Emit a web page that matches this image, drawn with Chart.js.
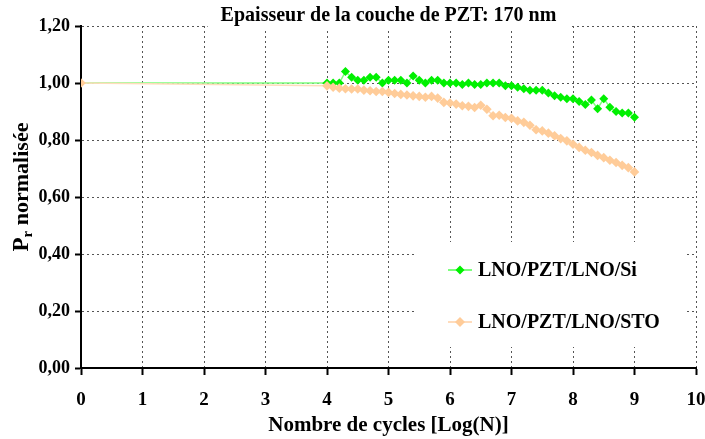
<!DOCTYPE html>
<html>
<head>
<meta charset="utf-8">
<script src="https://cdn.jsdelivr.net/npm/chart.js@4/dist/chart.umd.min.js"></script>
<style>
  html, body { margin: 0; padding: 0; background: #ffffff; }
  #fatigueChart { display: block; }
</style>
</head>
<body>
<canvas id="fatigueChart" width="705" height="439"></canvas>
<script>
// log10 of the number of switching cycles
const cyclesLog = [0,
    4.0, 4.1, 4.2, 4.3, 4.4, 4.5, 4.6, 4.7, 4.8, 4.9,
    5.0, 5.1, 5.2, 5.3, 5.4, 5.5, 5.6, 5.7, 5.8, 5.9,
    6.0, 6.1, 6.2, 6.3, 6.4, 6.5, 6.6, 6.7, 6.8, 6.9,
    7.0, 7.1, 7.2, 7.3, 7.4, 7.5, 7.6, 7.7, 7.8, 7.9,
    8.0, 8.1, 8.2, 8.3, 8.4, 8.5, 8.6, 8.7, 8.8, 8.9,
    9.0];

// normalised remanent polarisation, LNO/PZT/LNO on Si
const prSi = [1.00,
    1.00, 1.00, 1.00, 1.04, 1.02, 1.01, 1.01, 1.02, 1.02, 1.00,
    1.01, 1.01, 1.01, 1.00, 1.025, 1.01, 1.00, 1.01, 1.01, 1.00,
    1.00, 1.00, 0.995, 1.00, 0.995, 0.995, 1.00, 1.00, 1.00, 0.99,
    0.99, 0.985, 0.98, 0.975, 0.975, 0.975, 0.965, 0.955, 0.95, 0.945,
    0.945, 0.935, 0.925, 0.94, 0.91, 0.945, 0.915, 0.90, 0.895, 0.895,
    0.88];

// normalised remanent polarisation, LNO/PZT/LNO on STO
const prSto = [1.00,
    0.99, 0.985, 0.982, 0.98, 0.979, 0.979, 0.975, 0.973, 0.97, 0.97,
    0.967, 0.963, 0.96, 0.958, 0.955, 0.953, 0.95, 0.953, 0.947, 0.932,
    0.93, 0.926, 0.92, 0.918, 0.914, 0.922, 0.908, 0.885, 0.887, 0.879,
    0.876, 0.867, 0.862, 0.852, 0.836, 0.832, 0.824, 0.815, 0.805, 0.797,
    0.785, 0.774, 0.764, 0.756, 0.746, 0.738, 0.729, 0.721, 0.711, 0.703,
    0.688];

const seriesNames = ["LNO/PZT/LNO/Si", "LNO/PZT/LNO/STO"];
const chartTitle = "Epaisseur de la couche de PZT: 170 nm";
const xAxisTitle = "Nombre de cycles [Log(N)]";

const serif = "'Liberation Serif', 'Times New Roman', serif";
const green = "#00f000";
const greenLine = "#7dff7d";
const peach = "#ffcc99";
const peachLine = "#ffdcbc";

function toPoints(xs, ys) {
    return xs.map((x, i) => ({ x: x, y: ys[i] }));
}

// title with a white patch that breaks the top grid line
const titlePlugin = {
    id: "titlePlugin",
    afterDraw(chart) {
        const ctx = chart.ctx;
        const area = chart.chartArea;
        ctx.save();
        ctx.font = "bold 20px " + serif;
        const w = ctx.measureText(chartTitle).width;
        const cx = (area.left + area.right) / 2;
        ctx.fillStyle = "#ffffff";
        ctx.fillRect(cx - w / 2 - 13, 3, w + 28, 28);
        ctx.fillStyle = "#000000";
        ctx.textAlign = "center";
        ctx.textBaseline = "middle";
        ctx.fillText(chartTitle, cx, 16);
        ctx.restore();
    }
};

// rotated y title with the subscript r
const yTitlePlugin = {
    id: "yTitlePlugin",
    afterDraw(chart) {
        const ctx = chart.ctx;
        ctx.save();
        ctx.translate(28, 187);
        ctx.rotate(-Math.PI / 2);
        ctx.fillStyle = "#000000";
        ctx.textBaseline = "alphabetic";
        const bigFont = "bold 23px " + serif;
        const subFont = "bold 15px " + serif;
        const restFont = "bold 22px " + serif;
        ctx.font = bigFont;
        const wP = ctx.measureText("P").width;
        ctx.font = subFont;
        const wR = ctx.measureText("r").width;
        ctx.font = restFont;
        const rest = " normalisée";
        const wRest = ctx.measureText(rest).width;
        let x = -(wP + wR + wRest) / 2;
        ctx.font = bigFont;
        ctx.fillText("P", x, 0);
        x += wP;
        ctx.font = subFont;
        ctx.fillText("r", x, 4);
        x += wR;
        ctx.font = restFont;
        ctx.fillText(rest, x, 0);
        ctx.restore();
    }
};

// legend drawn inside the plot, lower right
const insideLegend = {
    id: "insideLegend",
    afterDraw(chart) {
        const ctx = chart.ctx;
        ctx.save();
        ctx.fillStyle = "#ffffff";
        ctx.fillRect(417, 242, 270, 105);
        const rows = [
            { y: 270, line: greenLine, mark: green, r: 4.5 },
            { y: 322, line: peachLine, mark: peach, r: 5 }
        ];
        rows.forEach((row, i) => {
            ctx.strokeStyle = row.line;
            ctx.lineWidth = 2;
            ctx.beginPath();
            ctx.moveTo(448, row.y);
            ctx.lineTo(472, row.y);
            ctx.stroke();
            ctx.fillStyle = row.mark;
            ctx.beginPath();
            ctx.moveTo(460, row.y - row.r);
            ctx.lineTo(460 + row.r, row.y);
            ctx.lineTo(460, row.y + row.r);
            ctx.lineTo(460 - row.r, row.y);
            ctx.closePath();
            ctx.fill();
            ctx.fillStyle = "#000000";
            ctx.font = "bold 20px " + serif;
            ctx.textBaseline = "middle";
            ctx.fillText(seriesNames[i], 478, row.y + 1);
        });
        ctx.restore();
    }
};

const ctx = document.getElementById("fatigueChart").getContext("2d");

const fatigueChart = new Chart(ctx, {
    type: "scatter",
    data: {
        datasets: [
            {
                label: seriesNames[0],
                data: toPoints(cyclesLog, prSi),
                showLine: true,
                borderColor: greenLine,
                borderWidth: 1.5,
                backgroundColor: green,
                pointStyle: "rectRot",
                pointRadius: [0].concat(cyclesLog.slice(1).map(() => 4.5)),
                pointBorderWidth: 0,
                order: 2
            },
            {
                label: seriesNames[1],
                data: toPoints(cyclesLog, prSto),
                showLine: true,
                borderColor: peachLine,
                borderWidth: 1.5,
                backgroundColor: peach,
                pointStyle: "rectRot",
                pointRadius: 4.8,
                pointBorderWidth: 0,
                order: 1
            }
        ]
    },
    options: {
        responsive: false,
        animation: false,
        layout: { padding: { top: 26, right: 9, left: 0, bottom: 0 } },
        plugins: {
            legend: { display: false },
            tooltip: { enabled: false }
        },
        scales: {
            x: {
                type: "linear",
                min: 0,
                max: 10,
                afterFit(scale) {
                    scale.height = 71;
                    scale.paddingLeft = 0;
                    scale.paddingRight = 0;
                },
                ticks: {
                    stepSize: 1,
                    padding: 14,
                    color: "#000000",
                    font: { family: serif, size: 19, weight: "bold" }
                },
                grid: {
                    color: "#555555",
                    lineWidth: 1,
                    tickLength: 7,
                    tickColor: "#000000",
                    tickWidth: 2
                },
                border: { color: "#000000", width: 2, dash: [2, 3] },
                title: {
                    display: true,
                    text: xAxisTitle,
                    color: "#000000",
                    font: { family: serif, size: 21, weight: "bold" },
                    padding: { top: 0, bottom: 1 }
                }
            },
            y: {
                min: 0,
                max: 1.2,
                afterFit(scale) {
                    scale.width = 81;
                    scale.paddingTop = 0;
                    scale.paddingBottom = 0;
                },
                ticks: {
                    stepSize: 0.2,
                    padding: 5,
                    color: "#000000",
                    font: { family: serif, size: 18, weight: "bold" },
                    callback: (v) => v.toFixed(2).replace(".", ",")
                },
                grid: {
                    color: "#555555",
                    lineWidth: 1,
                    tickLength: 6,
                    tickColor: "#000000",
                    tickWidth: 2
                },
                border: { color: "#000000", width: 2, dash: [2, 3] }
            }
        }
    },
    plugins: [titlePlugin, yTitlePlugin, insideLegend]
});
</script>
</body>
</html>
